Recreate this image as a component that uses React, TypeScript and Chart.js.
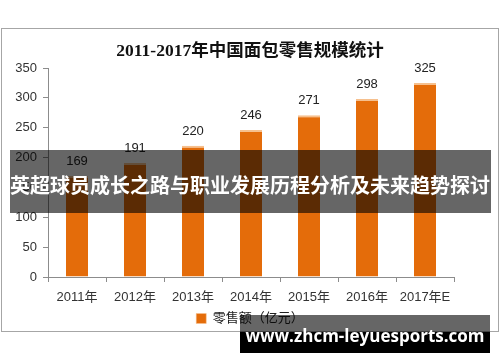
import React, { useEffect, useRef } from "react";
import { Chart, registerables } from "chart.js";

Chart.register(...registerables);

const categories = ["2011年", "2012年", "2013年", "2014年", "2015年", "2016年", "2017年E"];
const retailValues = [169, 191, 220, 246, 271, 298, 325];
const seriesName = "零售额（亿元）";
const chartTitle = "2011-2017年中国面包零售规模统计";
const yMin = 0;
const yMax = 350;
const yStep = 50;
const bannerText = "英超球员成长之路与职业发展历程分析及未来趋势探讨";
const siteText = "www.zhcm-leyuesports.com";

const SANS = "'Liberation Sans', 'Noto Sans CJK SC', sans-serif";
const SERIF = "'Liberation Serif', 'Noto Sans CJK SC', serif";

const valueLabels = {
  id: "valueLabels",
  afterDatasetsDraw(chart: any) {
    const ctx = chart.ctx;
    const meta = chart.getDatasetMeta(0);
    const data = chart.data.datasets[0].data;
    ctx.save();
    ctx.font = "13px " + SANS;
    ctx.fillStyle = "#222";
    ctx.textAlign = "center";
    ctx.textBaseline = "bottom";
    meta.data.forEach((bar: any, i: number) => {
      ctx.fillText(String(data[i]), bar.x, bar.y - 8);
    });
    ctx.restore();
  },
};

export default function App() {
  const ref = useRef<HTMLCanvasElement | null>(null);

  useEffect(() => {
    document.body.style.margin = "0";
    const canvas = ref.current;
    if (!canvas) return;
    const chart = new Chart(canvas, {
      type: "bar",
      data: {
        labels: categories,
        datasets: [
          {
            label: seriesName,
            data: retailValues,
            backgroundColor: "#E46C0A",
            borderColor: "#F6C08E",
            borderWidth: { top: 2, left: 0, right: 0, bottom: 0 },
            borderSkipped: "bottom",
            categoryPercentage: 1,
            barPercentage: 0.38,
            yAxisID: "y",
          },
        ],
      },
      options: {
        responsive: false,
        animation: false,
        devicePixelRatio: 1,
        layout: { padding: { top: 41, right: 0, bottom: 27, left: 0 } },
        plugins: {
          title: {
            display: true,
            text: chartTitle,
            color: "#111",
            font: { family: SERIF, size: 17.5, weight: "bold" },
            padding: { top: 0, bottom: 6 },
          },
          legend: {
            display: true,
            position: "bottom",
            labels: {
              boxWidth: 10,
              boxHeight: 10,
              padding: 6,
              color: "#222",
              font: { family: SANS, size: 13 },
            },
          },
          tooltip: { enabled: false },
        },
        scales: {
          x: {
            offset: true,
            grid: {
              offset: true,
              drawOnChartArea: false,
              drawTicks: true,
              tickLength: 5,
              color: "#8c8c8c",
            },
            border: { color: "#8c8c8c" },
            ticks: {
              color: "#333",
              padding: 8,
              font: { family: SANS, size: 13 },
              maxRotation: 0,
              autoSkip: false,
            },
            afterFit: (s: any) => {
              s.height = 29;
            },
          },
          y: {
            min: yMin,
            max: yMax,
            grid: {
              drawOnChartArea: false,
              drawTicks: true,
              tickLength: 5,
              color: "#8c8c8c",
            },
            border: { color: "#8c8c8c" },
            ticks: {
              stepSize: yStep,
              color: "#333",
              padding: 6,
              font: { family: SANS, size: 13 },
            },
            afterFit: (s: any) => {
              s.width = 48;
            },
          },
          yRight: {
            position: "right",
            min: yMin,
            max: yMax,
            grid: { display: false },
            border: { display: false },
            ticks: { display: false },
            afterFit: (s: any) => {
              s.width = 46;
            },
          },
        },
      },
      plugins: [valueLabels],
    });
    return () => chart.destroy();
  }, []);

  return (
    <div
      style={{
        position: "fixed",
        left: 0,
        top: 0,
        width: 500,
        height: 362,
        background: "#fff",
        overflow: "hidden",
      }}
    >
      <div
        style={{
          position: "absolute",
          left: 1,
          top: 28,
          width: 498,
          height: 304,
          border: "1px solid #a6a6a6",
          boxSizing: "border-box",
        }}
      />
      <canvas ref={ref} width={500} height={362} style={{ position: "absolute", left: 0, top: 0 }} />
      <div
        style={{
          position: "absolute",
          left: 10,
          top: 150,
          width: 481,
          height: 63,
          background: "rgba(0,0,0,0.6)",
        }}
      />
      <div
        style={{
          position: "absolute",
          left: 0,
          top: 150,
          width: 500,
          height: 63,
          display: "flex",
          justifyContent: "center",
          alignItems: "center",
          paddingTop: 6,
          boxSizing: "border-box",
        }}
      >
        <span
          style={{
            color: "#fff",
            fontFamily: "'Noto Sans CJK SC', sans-serif",
            fontWeight: 700,
            fontSize: 20,
            lineHeight: "24px",
            whiteSpace: "nowrap",
            letterSpacing: 0,
          }}
        >
          {bannerText}
        </span>
      </div>
      <div
        style={{
          position: "absolute",
          left: 240,
          top: 315,
          width: 250,
          height: 17,
          background: "rgba(0,0,0,0.6)",
        }}
      />
      <div
        style={{
          position: "absolute",
          left: 240,
          top: 332,
          width: 250,
          height: 21,
          background: "#000",
        }}
      />
      <div
        style={{
          position: "absolute",
          left: 244,
          top: 315,
          width: 242,
          height: 38,
          color: "#fff",
          fontFamily: "'Open Sans', sans-serif",
          fontWeight: 700,
          fontSize: 17,
          lineHeight: "38px",
          paddingTop: 2,
          boxSizing: "border-box",
          textAlign: "center",
          whiteSpace: "nowrap",
        }}
      >
        {siteText}
      </div>
    </div>
  );
}
